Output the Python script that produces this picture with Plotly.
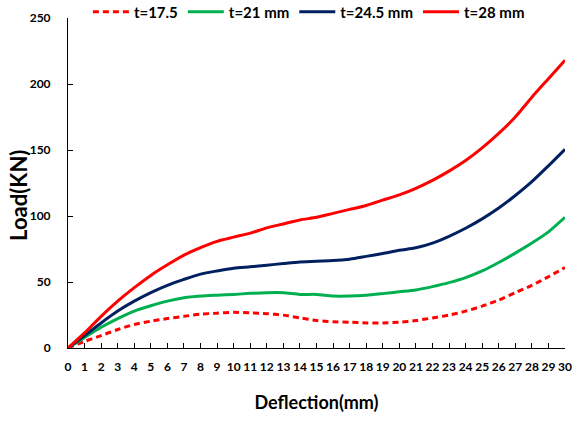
import plotly.graph_objects as go

deflection = list(range(0, 31))

load_t17_5 = [0, 5, 9.4, 14, 17.8, 20.3, 22.3, 24, 25.6, 26.4, 27, 26.7, 26, 24.9, 22.8, 20.8,
              19.8, 19.5, 19, 19, 19.6, 20.8, 22.8, 24.9, 27.9, 31.7, 36.3, 41.9, 47.5, 54, 61]
load_t21 = [0, 8, 15.7, 22.3, 28, 32, 35.5, 38, 39.3, 40, 40.6, 41.4, 41.9, 41.9, 40.6, 40.6,
            39.3, 39.3, 39.9, 41.2, 42.6, 44, 46.5, 49.5, 53.3, 58.4, 64.8, 71.9, 79.5, 88, 99]
load_t24_5 = [0, 9.4, 19, 28, 35.5, 42, 47.5, 52, 56, 58.4, 60.4, 61.5, 62.7, 64, 65.2, 65.8,
              66.2, 67.3, 69.4, 71.6, 74, 75.9, 79.5, 84.6, 90.7, 97.8, 106, 115.5, 126, 138, 150.5]
load_t28 = [0, 11.4, 24, 35.5, 45.7, 55, 63, 70.3, 76, 80.8, 84, 87, 91, 94, 97, 99,
            102, 105, 108, 112, 116, 121, 127, 134, 142, 151.6, 162.6, 175, 190, 204, 218]

series_names = ["t=17.5", "t=21 mm", "t=24.5 mm", "t=28 mm"]
series_colors = ["#FF0000", "#00B050", "#002060", "#FF0000"]
series_dash = ["6px,4px", "solid", "solid", "solid"]
series_values = [load_t17_5, load_t21, load_t24_5, load_t28]

y_ticks = [0, 50, 100, 150, 200, 250]

FONT = "Lato"

fig = go.Figure()
for name, color, dash, vals in zip(series_names, series_colors, series_dash, series_values):
    fig.add_trace(go.Scatter(
        x=deflection, y=vals, name=name, mode="lines",
        line=dict(color=color, width=3, dash=dash, shape="spline", smoothing=0.7),
    ))

fig.add_annotation(
    text="Load(KN)", xref="paper", yref="paper", x=-0.0986, y=0.464,
    xanchor="center", yanchor="middle", textangle=-90, showarrow=False,
    font=dict(family=FONT, size=22, weight="bold", color="black"),
)

fig.update_layout(
    width=573, height=423,
    margin=dict(l=68, r=8, t=18, b=75, autoexpand=False),
    paper_bgcolor="white", plot_bgcolor="white",
    font=dict(family=FONT, color="black"),
    showlegend=True,
    legend=dict(
        orientation="h", x=0.04, y=1.018, xanchor="left", yanchor="middle",
        font=dict(family=FONT, size=15, weight="bold", color="black"),
        bgcolor="rgba(255,255,255,0)", itemwidth=36,
        tracegroupgap=0,
    ),
    xaxis=dict(
        range=[0, 30], tickmode="array", tickvals=deflection,
        ticktext=[str(v) for v in deflection],
        showgrid=False, zeroline=False, showline=True, linecolor="black", linewidth=1,
        ticks="inside", ticklen=5, tickcolor="black",
        tickfont=dict(family=FONT, size=12, weight="bold", color="black"),
        ticklabelstandoff=8,
        title=dict(text="Deflection(mm)", font=dict(family=FONT, size=18, weight="bold"), standoff=22),
    ),
    yaxis=dict(
        range=[0, 250], tickmode="array", tickvals=y_ticks,
        showgrid=False, zeroline=False, showline=True, linecolor="black", linewidth=1,
        ticks="inside", ticklen=5, tickcolor="black",
        tickfont=dict(family=FONT, size=12, weight="bold", color="black"),
        ticklabelstandoff=14,
    ),
)

fig.write_html("out.html")
